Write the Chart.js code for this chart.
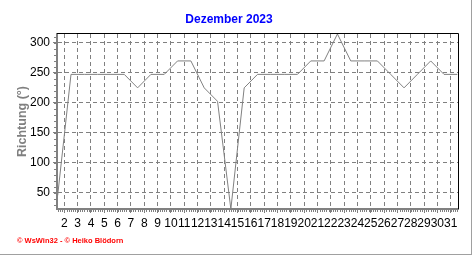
<!DOCTYPE html>
<html>
<head>
<meta charset="utf-8">
<script src="https://cdn.jsdelivr.net/npm/chart.js@4.4.1/dist/chart.umd.min.js"></script>
<style>
  html, body { margin: 0; padding: 0; background: #fff; }
  #wrap { width: 471px; height: 254px; border-right: 1px solid #a0a0a0; border-bottom: 1px solid #a0a0a0; }
  canvas { display: block; }
</style>
</head>
<body>
<div id="wrap"><canvas id="windChart" width="471" height="254"></canvas></div>
<script>
// daily mean wind direction, December 2023 (plotted at noon of each day)
const days = [1, 2, 3, 4, 5, 6, 7, 8, 9, 10, 11, 12, 13, 14, 15, 16, 17, 18, 19, 20, 21, 22, 23, 24, 25, 26, 27, 28, 29, 30, 31];
const directions = [45, 247.5, 247.5, 247.5, 247.5, 247.5, 225, 247.5, 247.5, 270, 270, 225, 202.5, 22.5, 225, 247.5, 247.5, 247.5, 247.5, 270, 270, 315, 270, 270, 270, 247.5, 225, 247.5, 270, 247.5, 247.5];
const dayTicks = [2, 3, 4, 5, 6, 7, 8, 9, 10, 11, 12, 13, 14, 15, 16, 17, 18, 19, 20, 21, 22, 23, 24, 25, 26, 27, 28, 29, 30, 31];
const directionTicks = [50, 100, 150, 200, 250, 300];

const GREY = '#808080';
const FONT = 'Liberation Sans, Arial, sans-serif';

const points = days.map((d, i) => ({ x: d + 0.5, y: directions[i] }));

// black frame top/right, minor ticks, footer
const decor = {
    id: 'decor',
    afterDraw(chart) {
        const { ctx, chartArea: a, scales } = chart;
        ctx.save();
        ctx.strokeStyle = GREY;
        ctx.lineWidth = 1;
        ctx.beginPath();
        for (let v = Math.ceil(scales.x.min * 6) / 6; v <= scales.x.max; v += 1 / 6) {
            const px = Math.round(scales.x.getPixelForValue(v)) + 0.5;
            ctx.moveTo(px, a.bottom + 1);
            ctx.lineTo(px, a.bottom + 3);
        }
        for (let v = 30; v <= 310; v += 10) {
            const py = Math.round(scales.y.getPixelForValue(v)) + 0.5;
            ctx.moveTo(a.left - 3, py);
            ctx.lineTo(a.left - 1, py);
        }
        ctx.stroke();

        ctx.strokeStyle = '#000';
        ctx.beginPath();
        ctx.moveTo(a.left, a.top - 0.5);
        ctx.lineTo(a.right + 0.5, a.top - 0.5);
        ctx.lineTo(a.right + 0.5, a.bottom);
        ctx.stroke();

        ctx.fillStyle = '#ff0000';
        ctx.font = 'bold 7.5px "Liberation Sans"';
        ctx.textBaseline = 'middle';
        ctx.fillText('© WsWin32 - © Heiko Blödorn', 17, 241);
        ctx.restore();
    }
};

new Chart(document.getElementById('windChart'), {
    type: 'line',
    data: {
        datasets: [{
            data: points,
            borderColor: GREY,
            borderWidth: 1,
            pointRadius: 0,
            tension: 0,
            fill: false
        }]
    },
    options: {
        responsive: false,
        animation: false,
        layout: { padding: { left: 0, right: 13, top: 0, bottom: 0 } },
        plugins: {
            legend: { display: false },
            tooltip: { enabled: false },
            title: {
                display: true,
                text: 'Dezember 2023',
                color: '#0000ff',
                font: { family: FONT, size: 12, weight: 'bold' },
                padding: { top: 12, bottom: 7.6 }
            }
        },
        scales: {
            x: {
                type: 'linear',
                min: 1.45,
                max: 31.55,
                afterFit: s => { s.height = 45; },
                afterBuildTicks: s => { s.ticks = dayTicks.map(v => ({ value: v })); },
                grid: { color: GREY, lineWidth: 1, drawTicks: true, tickLength: 4, tickColor: GREY, tickBorderDash: [] },
                border: { display: true, color: GREY, width: 2, dash: [4, 3] },
                ticks: {
                    color: '#000',
                    font: { family: FONT, size: 12 },
                    padding: 3,
                    autoSkip: false,
                    maxRotation: 0,
                    callback: v => String(v)
                }
            },
            y: {
                min: 22.5,
                max: 315,
                afterFit: s => { s.width = 57; },
                afterBuildTicks: s => { s.ticks = directionTicks.map(v => ({ value: v })); },
                grid: { color: GREY, lineWidth: 1, drawTicks: true, tickLength: 4, tickColor: GREY, tickBorderDash: [] },
                border: { display: true, color: GREY, width: 2, dash: [4, 3] },
                title: {
                    display: true,
                    text: 'Richtung (°)',
                    color: GREY,
                    font: { family: FONT, size: 12.5, weight: 'bold' },
                    padding: { top: 15, bottom: 0 }
                },
                ticks: {
                    color: '#000',
                    font: { family: FONT, size: 12 },
                    padding: 3,
                    callback: v => String(v)
                }
            }
        }
    },
    plugins: [decor]
});
</script>
</body>
</html>
